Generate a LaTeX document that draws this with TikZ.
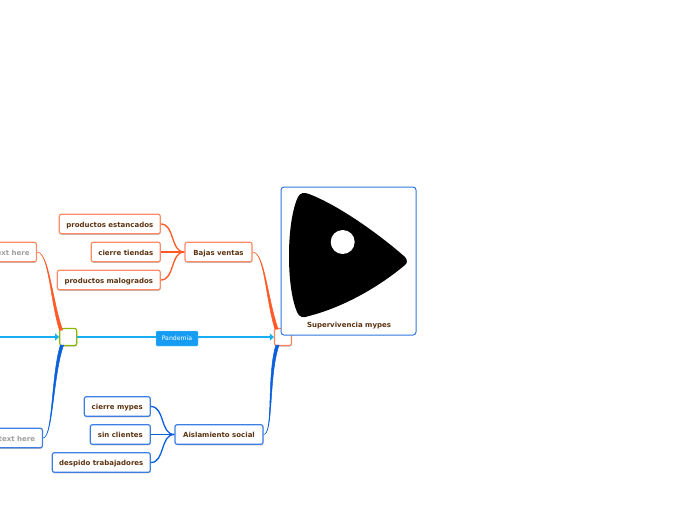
\documentclass[tikz,border=0pt]{standalone}
\usepackage{fontspec}
\setmainfont{DejaVu Sans}
\usepackage{xcolor}
\usetikzlibrary{arrows.meta,positioning,calc,shadows}
\definecolor{limbred}{HTML}{FF5A26}
\definecolor{limbblue}{HTML}{0A5FDC}
\definecolor{linksky}{HTML}{18AEF2}
\definecolor{inkbrown}{HTML}{5C3310}
% tapered branch: from (#2) thin to (#3) thick
\newcommand{\limb}[3]{%
  \draw[#1, line width=0.5pt, fill=#1] (#2.east) .. controls ($(#2.east)+(12,0)$) and ($(#3)+(-9,-30)$) .. ($(#3)+(1.6,0)$)
    -- ($(#3)+(-1.6,0)$) .. controls ($(#3)+(-11,-30)$) and ($(#2.east)+(12,0)$) .. (#2.east);}
\newcommand{\limbup}[3]{%
  \draw[#1, line width=0.5pt, fill=#1] (#2.east) .. controls ($(#2.east)+(10,0)$) and ($(#3)+(-9,30)$) .. ($(#3)+(1.6,0)$)
    -- ($(#3)+(-1.6,0)$) .. controls ($(#3)+(-11,30)$) and ($(#2.east)+(10,0)$) .. (#2.east);}
\begin{document}
\begin{tikzpicture}[
    x=1pt, y=-1pt,
    node distance=8pt and 23.5pt,
    topic/.style={draw, rounded corners=2pt, align=center, fill=white, line width=1.2pt, inner sep=0pt, minimum height=19.5pt, text height=6.6pt, text depth=0pt, font=\bfseries\fontsize{7}{8}\selectfont, text=inkbrown, drop shadow={shadow xshift=0.3pt, shadow yshift=-1pt, opacity=0.5}},
    redbox/.style={topic, draw=limbred!70!white},
    bluebox/.style={topic, draw=limbblue!80!white},
    twig/.style={line width=1.3pt, rounded corners=1pt},
    skyline/.style={draw=linksky, line width=1.2pt},
    skyarrow/.style={skyline, -{Triangle[length=4pt, width=7pt]}}
]
\useasboundingbox (0,0) rectangle (696,520);
% centre row
\coordinate (leftend) at (-2,337);
\node[topic, draw=green!50!black!40!yellow!90!black, minimum width=17pt, minimum height=17pt] (hub) at (68.2,337) {};
\node[topic, draw=limbred!75!white, minimum width=17pt, minimum height=17pt] (target) at (283,337) {};
\node[draw=linksky!60!white, fill=linksky!90!blue, rounded corners=1pt, inner sep=0pt, minimum width=42pt, minimum height=15pt, text=white, font=\fontsize{6.2}{8}\selectfont] (pandemia) at (177,338.5) {Pandemia};
% upper branch
\node[redbox, minimum width=67pt] (bajas) at (218.5,252) {Bajas ventas};
\node[redbox, minimum width=69pt, left=of bajas] (tiendas) {cierre tiendas};
\node[redbox, minimum width=101pt, anchor=east] (estancados) at (tiendas.east |- 0,224) {productos estancados};
\node[redbox, minimum width=103pt, anchor=east] (malogrados) at (tiendas.east |- 0,280) {productos malogrados};
\node[redbox, minimum width=50pt, anchor=east, text=gray!75] (texttop) at (37,252) {text here};
% lower branch
\node[bluebox, minimum width=88pt] (aislamiento) at (219,434.5) {Aislamiento social};
\node[bluebox, minimum width=60pt, left=of aislamiento] (clientes) {sin clientes};
\node[bluebox, minimum width=66pt, anchor=east] (mypes) at (clientes.east |- 0,406.5) {cierre mypes};
\node[bluebox, minimum width=98pt, anchor=east] (despido) at (clientes.east |- 0,462.5) {despido trabajadores};
\node[bluebox, minimum width=51pt, anchor=east, text=gray!75] (textlow) at (43,438) {text here};
% twigs
\draw[limbred, twig] (estancados.east) .. controls (175,224) and (170,252) .. (bajas.west);
\draw[limbred, twig] (tiendas.east) -- (bajas.west);
\draw[limbred, twig] (malogrados.east) .. controls (175,280) and (170,252) .. (bajas.west);
\draw[limbblue, twig] (mypes.east) .. controls (165,406.5) and (160,434.5) .. (aislamiento.west);
\draw[limbblue, twig] (clientes.east) -- (aislamiento.west);
\draw[limbblue, twig] (despido.east) .. controls (165,462.5) and (160,434.5) .. (aislamiento.west);
% branches
\coordinate (hubtop) at (61,330);
\coordinate (hublow) at (62,345);
\coordinate (targettop) at (276.5,329);
\coordinate (targetlow) at (277.5,345);
\limb{limbred}{texttop}{hubtop}
\limbup{limbblue}{textlow}{hublow}
\limb{limbred}{bajas}{targettop}
\limbup{limbblue}{aislamiento}{targetlow}
% sky links
\draw[skyarrow] (leftend) -- (hub.west);
\draw[skyline] (hub.east) -- (hub.east -| pandemia.west);
\draw[skyarrow] (target.west -| pandemia.east) -- (target.west);
% picture topic
\node[draw=limbblue!85!white, fill=white, rounded corners=3pt, line width=1pt, minimum width=135pt, minimum height=148pt, inner sep=0pt] (picbox) at (348.5,261) {};
\fill[black] (289,256) .. controls (289,225) and (294,205) .. (298,197) .. controls (300,193) and (304,192) .. (309,194) .. controls (340,206) and (380,235) .. (405,257) .. controls (407.5,260) and (407.5,263) .. (405,265) .. controls (375,290) and (340,308) .. (309,316) .. controls (303,318.5) and (299,317) .. (297,312) .. controls (292,300) and (289,280) .. (289,256) -- cycle;
\fill[white] (342.7,242) circle (12);
\node[font=\bfseries\fontsize{7}{8}\selectfont, text=inkbrown, inner sep=0pt] (pictitle) at (349,325.5) {Supervivencia mypes};
\end{tikzpicture}
\end{document}
